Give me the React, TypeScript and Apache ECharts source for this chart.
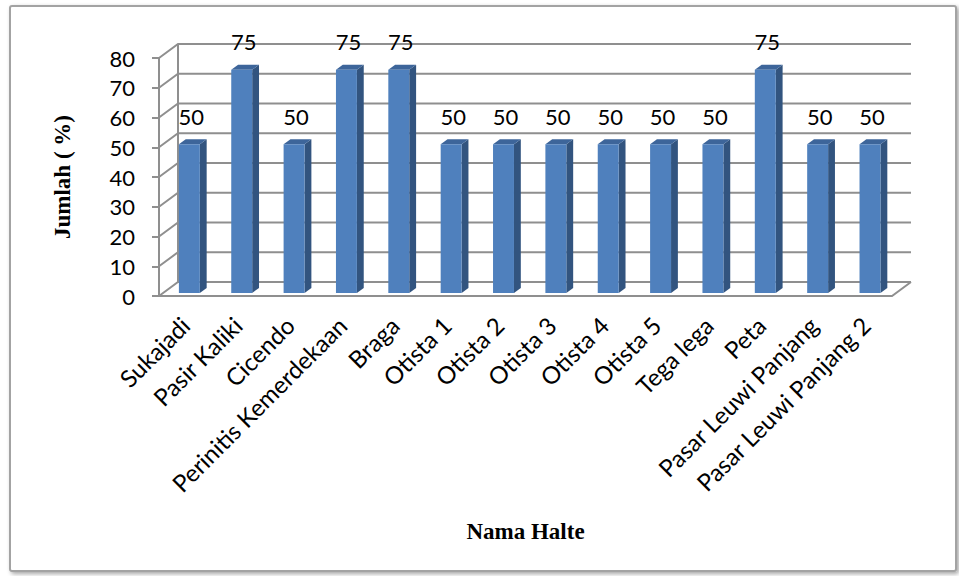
import React, { useEffect, useRef } from "react";
import * as echarts from "echarts";

// Bus stop names and the share (%) recorded at each
const categories = [
  "Sukajadi",
  "Pasir Kaliki",
  "Cicendo",
  "Perinitis Kemerdekaan",
  "Braga",
  "Otista 1",
  "Otista 2",
  "Otista 3",
  "Otista 4",
  "Otista 5",
  "Tega lega",
  "Peta",
  "Pasar Leuwi Panjang",
  "Pasar Leuwi Panjang 2",
];
const values = [50, 75, 50, 75, 75, 50, 50, 50, 50, 50, 50, 75, 50, 50];
const yTicks = [0, 10, 20, 30, 40, 50, 60, 70, 80];

// oblique depth of the 3D box (front plane -> back wall)
const DEPTH_X = 19;
const DEPTH_Y = -14;
// bars sit between these fractions of the depth
const BAR_FRONT = 0.22;
const BAR_BACK = 0.58;

const GRID_COLOR = "#8f8f8f";
const FONT = "Lato, 'Open Sans', sans-serif";
const SERIF = "'Liberation Serif', 'DejaVu Serif', serif";

export default function App() {
  const ref = useRef<HTMLDivElement>(null);

  useEffect(() => {
    if (!ref.current) return;
    const chart = echarts.init(ref.current, null, { renderer: "svg" });

    const option: any = {
      animation: false,
      backgroundColor: "#ffffff",
      graphic: [
        {
          type: "rect",
          z: -10,
          shape: { x: 10, y: 6, width: 946, height: 565, r: 2 },
          style: {
            fill: "#ffffff",
            stroke: "#a3a3a3",
            lineWidth: 2,
            shadowBlur: 4,
            shadowOffsetX: 2,
            shadowOffsetY: 2,
            shadowColor: "rgba(0,0,0,0.35)",
          },
        },
      ],
      grid: { left: 159, top: 58, width: 733, height: 238, containLabel: false },
      xAxis: {
        type: "category",
        data: categories,
        name: "Nama Halte",
        nameLocation: "middle",
        nameGap: 224,
        nameTextStyle: { fontFamily: SERIF, fontWeight: "bold", fontSize: 23, color: "#000" },
        axisLine: { show: false },
        axisTick: { show: false },
        axisLabel: {
          interval: 0,
          rotate: 45,
          margin: 25,
          fontFamily: FONT,
          fontSize: 24,
          color: "#000",
        },
      },
      yAxis: {
        type: "value",
        min: 0,
        max: 80,
        interval: 10,
        name: "Jumlah ( %)",
        nameLocation: "middle",
        nameGap: 85,
        nameRotate: 90,
        nameTextStyle: { fontFamily: SERIF, fontWeight: "bold", fontSize: 23, color: "#000" },
        splitLine: { show: false },
        axisLine: { show: true, lineStyle: { color: GRID_COLOR, width: 2 } },
        axisTick: { show: true, length: 7, lineStyle: { color: GRID_COLOR, width: 2 } },
        axisLabel: { margin: 24, fontFamily: FONT, fontSize: 22, color: "#000" },
      },
      series: [
        {
          // walls and floor of the 3D box
          type: "custom",
          z: 1,
          silent: true,
          data: yTicks.map((t) => [0, t]),
          renderItem: (params: any, api: any) => {
            const cs = params.coordSys;
            const v = api.value(1);
            const y = api.coord([0, v])[1];
            const x0 = cs.x;
            const x1 = cs.x + cs.width;
            const lineStyle = { stroke: GRID_COLOR, lineWidth: 2, fill: null };
            const children: any[] = [
              {
                type: "polyline",
                shape: {
                  points: [
                    [x0, y],
                    [x0 + DEPTH_X, y + DEPTH_Y],
                    [x1 + DEPTH_X, y + DEPTH_Y],
                  ],
                },
                style: lineStyle,
              },
            ];
            if (v === 0) {
              const yTop = api.coord([0, yTicks[yTicks.length - 1]])[1];
              children.push(
                {
                  type: "polyline",
                  shape: {
                    points: [
                      [x0, y],
                      [x1, y],
                      [x1 + DEPTH_X, y + DEPTH_Y],
                    ],
                  },
                  style: lineStyle,
                },
                {
                  type: "line",
                  shape: {
                    x1: x0 + DEPTH_X,
                    y1: yTop + DEPTH_Y,
                    x2: x0 + DEPTH_X,
                    y2: y + DEPTH_Y,
                  },
                  style: lineStyle,
                }
              );
            }
            return { type: "group", children };
          },
        },
        {
          // 3D columns
          type: "custom",
          z: 5,
          data: values.map((v, i) => [i, v]),
          encode: { x: 0, y: 1 },
          renderItem: (params: any, api: any) => {
            const i = api.value(0);
            const v = api.value(1);
            const base = api.coord([i, 0]);
            const top = api.coord([i, v]);
            const band = api.size([1, 0])[0];
            const w = band * 0.4;
            const ox = DEPTH_X * BAR_FRONT;
            const oy = DEPTH_Y * BAR_FRONT;
            const dx = DEPTH_X * (BAR_BACK - BAR_FRONT);
            const dy = DEPTH_Y * (BAR_BACK - BAR_FRONT);
            const xl = base[0] - w / 2 + ox;
            const xr = xl + w;
            const yb = base[1] + oy;
            const yt = top[1] + oy;
            return {
              type: "group",
              children: [
                {
                  type: "polygon",
                  shape: { points: [[xr, yt], [xr + dx, yt + dy], [xr + dx, yb + dy], [xr, yb]] },
                  style: { fill: "#32547f" },
                },
                {
                  type: "polygon",
                  shape: { points: [[xl, yt], [xr, yt], [xr + dx, yt + dy], [xl + dx, yt + dy]] },
                  style: { fill: "#3d659a" },
                },
                {
                  type: "rect",
                  shape: { x: xl, y: yt, width: w, height: yb - yt },
                  style: { fill: "#4f80bd" },
                },
                {
                  type: "text",
                  x: xl + w / 2 + 2,
                  y: yt - 28,
                  style: {
                    text: String(v),
                    fontFamily: FONT,
                    fontSize: 22,
                    fill: "#000",
                    align: "center",
                    verticalAlign: "middle",
                  },
                },
              ],
            };
          },
        },
      ],
    };

    chart.setOption(option);
    return () => chart.dispose();
  }, []);

  return (
    <div
      ref={ref}
      style={{ position: "fixed", left: 0, top: 0, width: 959, height: 576 }}
    />
  );
}
